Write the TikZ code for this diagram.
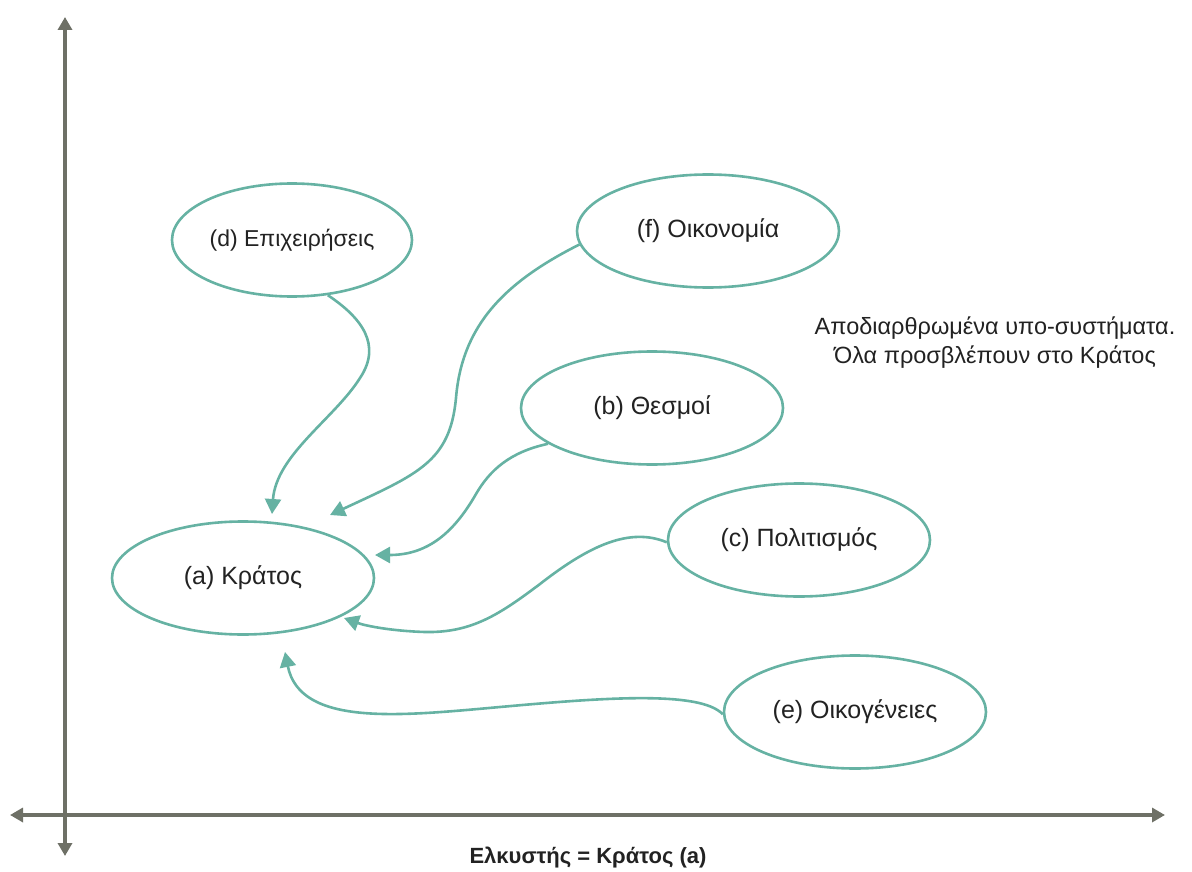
\documentclass[tikz,border=0pt]{standalone}
\usepackage{fontspec}
\setmainfont{Liberation Sans}
\usetikzlibrary{arrows.meta,shapes.geometric}
\definecolor{flow}{HTML}{66B2A3}
\definecolor{axis}{HTML}{6E7066}
\definecolor{label}{HTML}{222222}

\begin{document}
\begin{tikzpicture}[x=1pt,y=-1pt,
  bubble/.style={ellipse,draw=flow,line width=2.6pt,minimum width=262pt,minimum height=113pt,
    inner sep=0pt,text=label,font=\fontsize{25}{29}\selectfont},
  pull/.style={flow,line width=2.6pt,-{Triangle[length=15pt,width=16pt]}},
  axe/.style={axis,line width=3.4pt,{Triangle[length=13pt,width=14pt]}-{Triangle[length=13pt,width=14pt]}}]
  \useasboundingbox (0,0) rectangle (1192,872);
  % axes
  \coordinate (ytop) at (65,17);
  \coordinate (ybot) at (65,856);
  \coordinate (xleft) at (10,815);
  \coordinate (xright) at (1165,815);
  \draw[axe] (ybot) -- (ytop);
  \draw[axe] (xleft) -- (xright);
  % sub-systems
  \foreach \name/\x/\y/\txt in {a/243/578/(a) Κράτος,
      f/708/231/(f) Οικονομία, b/652/408/(b) Θεσμοί, c/799/540/(c) Πολιτισμός,
      e/855/712/(e) Οικογένειες} {
    \node[bubble] (\name) at (\x,\y) {\txt};
  }
  \node[bubble,minimum width=240pt,font=\fontsize{23}{27}\selectfont] (d) at (292,240) {(d) Επιχειρήσεις};
  % arrow ends near the state
  \coordinate (tipd) at (272,514);
  \coordinate (tipf) at (330,515);
  \coordinate (tipb) at (375,555);
  \coordinate (tipc) at (344,618);
  \coordinate (tipe) at (285,652);
  \draw[pull] (d.-57) .. controls (362,318) and (382,345) .. (360,378)
    .. controls (335,418) and (276,455) .. (tipd);
  \draw[pull] (f.186) .. controls (505,282) and (462,325) .. (456,398)
    .. controls (450,462) and (418,474) .. (tipf);
  \draw[pull] (b.199) .. controls (510,452) and (490,470) .. (476,494)
    .. controls (452,536) and (425,555) .. (tipb);
  \draw[pull] (c.181) .. controls (630,527) and (590,545) .. (540,584)
    .. controls (500,614) and (472,633) .. (425,632)
    .. controls (392,631) and (366,626) .. (tipc);
  \draw[pull] (e.181) .. controls (700,690) and (600,698) .. (500,707)
    .. controls (400,716) and (300,727) .. (tipe);
  % notes
  \node[text=label,align=center,font=\fontsize{23.5}{29}\selectfont] (note) at (995,343)
    {Αποδιαρθρωμένα υπο-συστήματα.\\Όλα προσβλέπουν στο Κράτος};
  \node[text=label,font=\fontsize{22}{26}\selectfont\bfseries] (attr) at (588,858)
    {Ελκυστής = Κράτος (a)};
\end{tikzpicture}
\end{document}
